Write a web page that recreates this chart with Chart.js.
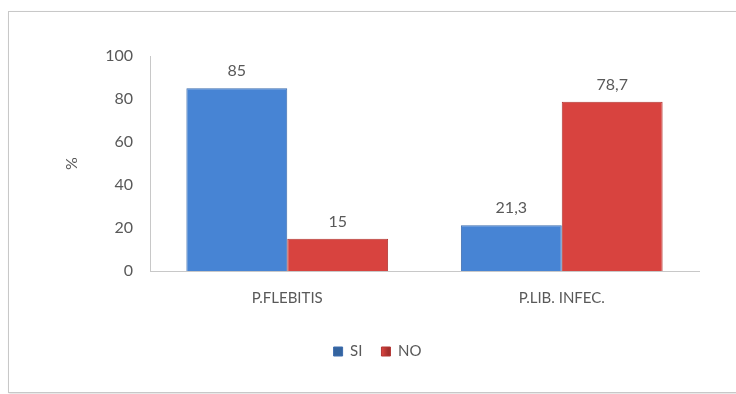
<!DOCTYPE html>
<html>
<head>
<meta charset="utf-8">
<script src="https://cdn.jsdelivr.net/npm/chart.js@4"></script>
<style>
  html, body { margin: 0; padding: 0; background: #fff; }
  #frame { position: absolute; left: 8px; top: 11px; width: 740px; height: 380px;
           border: 1px solid #c8c8c8; box-shadow: 1px 1px 2px #ddd; }
  #wrap { position: absolute; left: 0; top: 0; width: 736px; height: 394px; }
</style>
</head>
<body>
<div id="frame"></div>
<div id="wrap"><canvas id="chart"></canvas></div>
<script>
const categories = ['P.FLEBITIS', 'P.LIB. INFEC.'];
const siValues = [85, 21.3];
const noValues = [15, 78.7];
const yTicks = [0, 20, 40, 60, 80, 100];

const textColor = '#595959';
const fontFamily = 'Lato, sans-serif';

// gradient fill to mimic the bevelled bars
function barFill(ctx, light, dark) {
    const chart = ctx.chart;
    const area = chart.chartArea;
    if (!area) return light;
    const el = ctx.element;
    if (!el || el.width === undefined) return light;
    const x0 = el.x - el.width / 2;
    const g = chart.ctx.createLinearGradient(x0, 0, x0 + el.width, 0);
    g.addColorStop(0, dark);
    g.addColorStop(0.06, light);
    g.addColorStop(0.94, light);
    g.addColorStop(1, dark);
    return g;
}

const valueLabels = {
    id: 'valueLabels',
    afterDatasetsDraw: function (chart) {
        const ctx = chart.ctx;
        ctx.save();
        ctx.font = '16px ' + fontFamily;
        ctx.fillStyle = textColor;
        ctx.textAlign = 'center';
        ctx.textBaseline = 'bottom';
        chart.data.datasets.forEach((ds, i) => {
            chart.getDatasetMeta(i).data.forEach((bar, j) => {
                ctx.fillText(String(ds.data[j]).replace('.', ','), bar.x, bar.y - 9);
            });
        });
        ctx.restore();
    }
};

const data = {
    labels: categories,
    datasets: [
        {
            label: 'SI',
            data: siValues,
            backgroundColor: c => barFill(c, '#4784d4', '#34649f'),
            borderColor: '#3c6cae',
            borderWidth: 1,
            categoryPercentage: 0.735,
            barPercentage: 1
        },
        {
            label: 'NO',
            data: noValues,
            backgroundColor: c => barFill(c, '#d8433f', '#a32f2c'),
            borderColor: '#b23633',
            borderWidth: 1,
            categoryPercentage: 0.735,
            barPercentage: 1
        }
    ]
};

const chartConfig = {
    type: 'bar',
    data: data,
    options: {
        responsive: true,
        maintainAspectRatio: false,
        animation: false,
        layout: { padding: { left: 56, top: 56, right: 37, bottom: 25 } },
        plugins: {
            legend: {
                position: 'bottom',
                labels: {
                    boxWidth: 9,
                    boxHeight: 9,
                    padding: 19,
                    color: textColor,
                    font: { family: fontFamily, size: 15 }
                }
            },
            tooltip: { enabled: false }
        },
        scales: {
            x: {
                grid: { display: false, drawTicks: false },
                border: { color: '#c8c8c8' },
                ticks: { color: textColor, padding: 18, font: { family: fontFamily, size: 15 } }
            },
            y: {
                min: 0,
                max: 100,
                afterBuildTicks: function (axis) {
                    axis.ticks = yTicks.map(v => ({ value: v }));
                },
                grid: { display: false, drawTicks: false },
                border: { color: '#c8c8c8' },
                ticks: { color: textColor, padding: 17, font: { family: fontFamily, size: 16 } },
                title: {
                    display: true,
                    text: '%',
                    color: textColor,
                    padding: { top: 6, bottom: 12 },
                    font: { family: fontFamily, size: 16 }
                },
                afterFit: function (axis) { axis.width = 94; }
            }
        }
    },
    plugins: [valueLabels]
};

const myChart = new Chart(document.getElementById('chart'), chartConfig);
</script>
</body>
</html>
